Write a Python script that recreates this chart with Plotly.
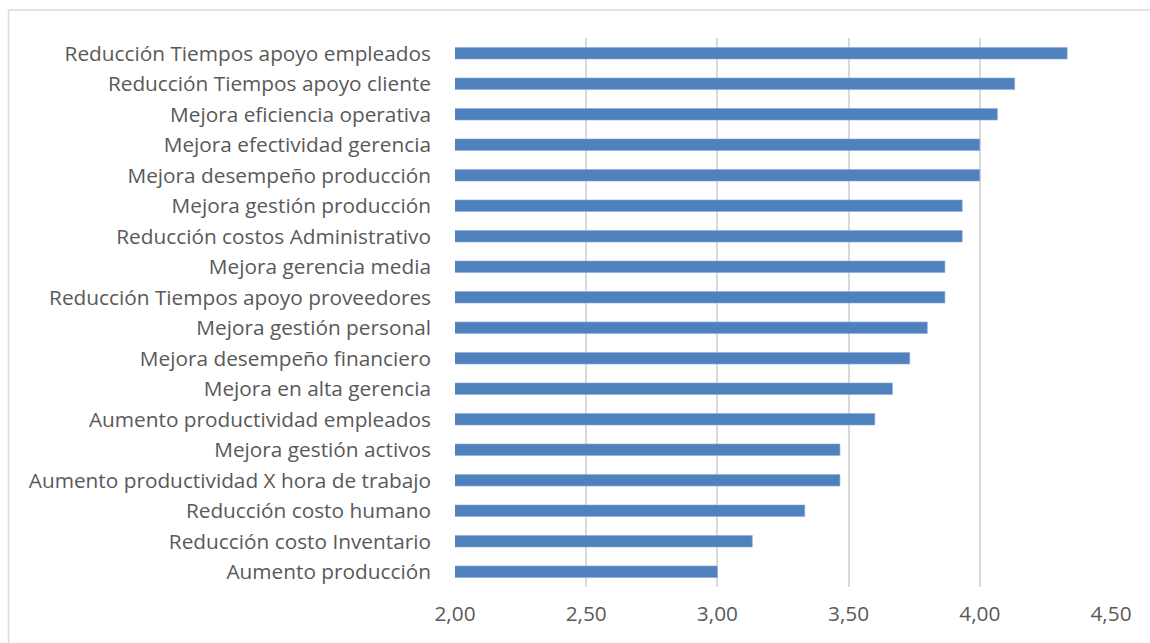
import plotly.graph_objects as go

categories = [
    "Reducción Tiempos apoyo empleados",
    "Reducción Tiempos apoyo cliente",
    "Mejora eficiencia operativa",
    "Mejora efectividad gerencia",
    "Mejora desempeño producción",
    "Mejora gestión producción",
    "Reducción costos Administrativo",
    "Mejora gerencia media",
    "Reducción Tiempos apoyo proveedores",
    "Mejora gestión personal",
    "Mejora desempeño financiero",
    "Mejora en alta gerencia",
    "Aumento productividad empleados",
    "Mejora gestión activos",
    "Aumento productividad X hora de trabajo",
    "Reducción costo humano",
    "Reducción costo Inventario",
    "Aumento producción",
]
values = [4.333, 4.133, 4.067, 4.0, 4.0, 3.933, 3.933, 3.867, 3.867, 3.8,
          3.733, 3.667, 3.6, 3.467, 3.467, 3.333, 3.133, 3.0]
tick_vals = [2.0, 2.5, 3.0, 3.5, 4.0, 4.5]
tick_text = ["2,00", "2,50", "3,00", "3,50", "4,00", "4,50"]

W, H = 1150, 643
ml, mr, mt, mb = 455, 39, 38, 56
pw = W - ml - mr
ph = H - mt - mb

fig = go.Figure(go.Bar(
    x=values, y=categories, orientation="h",
    base=0,
    marker=dict(color="#4F81BD", line=dict(color="#8EAADB", width=0.6)),
    hoverinfo="x+y",
))

FONT = "Open Sans, Lato, sans-serif"
fig.update_layout(
    width=W, height=H,
    margin=dict(l=ml, r=mr, t=mt, b=mb, pad=0),
    paper_bgcolor="white", plot_bgcolor="white",
    bargap=0.62,
    showlegend=False,
    font=dict(family=FONT, size=20.8, color="#595959"),
    xaxis=dict(
        range=[2.0, 4.5], tickvals=tick_vals, ticktext=tick_text,
        showgrid=True, gridcolor="#D9D9D9", gridwidth=1.5,
        zeroline=False, showline=False, ticks="",
        ticklabelstandoff=12,
        tickfont=dict(family=FONT, size=20.8, color="#595959"),
        fixedrange=True,
    ),
    yaxis=dict(
        autorange="reversed", type="category",
        showgrid=False, zeroline=False, showline=False, ticks="",
        ticklabelstandoff=23,
        tickfont=dict(family=FONT, size=20.8, color="#595959"),
        fixedrange=True,
    ),
)

# outer chart-area frame (left and top edges visible)
bx = (8.5 - ml) / pw
by = (H - mb - 10) / ph
fig.add_shape(type="line", xref="paper", yref="paper",
              x0=bx, x1=bx, y0=-0.2, y1=by,
              line=dict(color="#D9D9D9", width=1.5))
fig.add_shape(type="line", xref="paper", yref="paper",
              x0=bx, x1=1.2, y0=by, y1=by,
              line=dict(color="#D9D9D9", width=1.5))

fig.write_html("out.html")
